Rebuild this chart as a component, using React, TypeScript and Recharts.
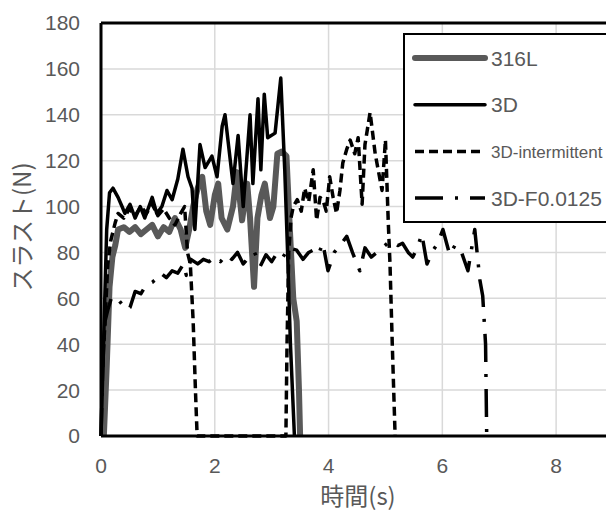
import { LineChart, Line, XAxis, YAxis, CartesianGrid, ReferenceLine } from "recharts";

// [time (s), thrust (N)]
const s316L: [number, number][] = [
  [0.05, 0], [0.1, 30], [0.15, 65], [0.2, 78], [0.25, 83], [0.3, 90], [0.4, 91], [0.5, 89],
  [0.6, 91], [0.7, 88], [0.8, 90], [0.9, 92], [1.0, 87], [1.1, 91], [1.2, 89], [1.3, 95],
  [1.4, 90], [1.48, 82], [1.55, 90], [1.62, 100], [1.7, 108], [1.78, 113], [1.85, 98],
  [1.92, 92], [2.0, 105], [2.06, 110], [2.12, 95], [2.22, 90], [2.32, 100], [2.39, 115],
  [2.48, 94], [2.57, 110], [2.62, 95], [2.69, 65], [2.75, 95], [2.82, 105], [2.88, 110],
  [2.97, 95], [3.03, 100], [3.1, 123], [3.18, 124], [3.26, 122], [3.32, 90], [3.38, 60],
  [3.44, 50], [3.48, 20], [3.5, 0],
];

const s3D: [number, number][] = [
  [0, 0], [0.05, 45], [0.1, 90], [0.15, 106], [0.21, 108], [0.3, 104], [0.37, 100], [0.42, 97],
  [0.51, 101], [0.6, 95], [0.69, 100], [0.77, 95], [0.9, 104], [0.98, 97], [1.07, 100],
  [1.16, 107], [1.25, 103], [1.35, 112], [1.44, 125], [1.53, 113], [1.6, 108], [1.65, 90],
  [1.74, 127], [1.83, 117], [1.95, 122], [2.04, 113], [2.13, 135], [2.18, 140], [2.32, 110],
  [2.41, 131], [2.5, 100], [2.62, 140], [2.67, 110], [2.76, 147], [2.81, 116], [2.87, 149],
  [2.93, 130], [3.06, 132], [3.16, 156], [3.23, 116], [3.28, 80], [3.33, 40], [3.4, 0],
];

const s3DInt: [number, number][] = [
  [0.03, 30], [0.08, 55], [0.12, 75], [0.17, 85], [0.25, 93], [0.3, 97], [0.4, 95], [0.5, 99],
  [0.6, 96], [0.7, 100], [0.8, 97], [0.9, 101], [1.0, 96], [1.1, 99], [1.2, 95], [1.3, 92],
  [1.4, 97], [1.47, 100], [1.52, 80], [1.57, 75], [1.62, 50], [1.66, 20], [1.69, 0], [2.0, 0],
  [2.5, 0], [3.0, 0], [3.25, 0], [3.27, 40], [3.3, 80], [3.34, 95], [3.38, 100], [3.45, 103],
  [3.52, 98], [3.58, 108], [3.65, 102], [3.73, 116], [3.79, 94], [3.85, 104], [3.9, 103],
  [3.96, 98], [4.02, 113], [4.08, 104], [4.14, 97], [4.2, 107], [4.25, 119], [4.32, 125],
  [4.38, 129], [4.46, 123], [4.52, 130], [4.59, 101], [4.64, 127], [4.73, 141], [4.82, 123],
  [4.88, 115], [4.94, 107], [5.0, 129], [5.05, 93], [5.08, 75], [5.12, 40], [5.17, 0],
];

const s3DF: [number, number][] = [
  [0, 0], [0.03, 30], [0.07, 50], [0.12, 55], [0.18, 60], [0.25, 61], [0.35, 58], [0.45, 55],
  [0.51, 56], [0.6, 63], [0.7, 62], [0.8, 66], [0.9, 67], [0.95, 68], [1.05, 71], [1.15, 69],
  [1.25, 72], [1.35, 71], [1.45, 75], [1.5, 70], [1.58, 77], [1.7, 75], [1.8, 77], [1.9, 76],
  [2.0, 78], [2.1, 76], [2.2, 79], [2.3, 77], [2.4, 80], [2.5, 75], [2.6, 78], [2.7, 80],
  [2.8, 74], [2.9, 79], [3.0, 76], [3.1, 80], [3.2, 78], [3.3, 82], [3.44, 81], [3.55, 77],
  [3.65, 80], [3.73, 81], [3.82, 79], [3.9, 84], [3.99, 72], [4.1, 80], [4.2, 83], [4.32, 87],
  [4.42, 80], [4.55, 72], [4.64, 82], [4.75, 78], [4.9, 81], [5.08, 85], [5.22, 83], [5.3, 84],
  [5.4, 80], [5.48, 78], [5.56, 82], [5.64, 88], [5.73, 75], [5.84, 81], [5.92, 84], [6.01, 90],
  [6.13, 79], [6.22, 83], [6.31, 82], [6.45, 72], [6.57, 90], [6.66, 68], [6.71, 61],
  [6.76, 40], [6.78, 0],
];

const xTicks = [0, 2, 4, 6, 8];
const yTicks = [0, 20, 40, 60, 80, 100, 120, 140, 160, 180];

const FONT = "'Liberation Sans', Arial, sans-serif";
const CJK = "'Noto Sans CJK JP', 'Noto Sans CJK SC', sans-serif";
const TEXT = "#595959";

const SERIES = [
  { name: "316L", data: s316L, color: "#595959", width: 6, dash: undefined as string | undefined, size: 21 },
  { name: "3D", data: s3D, color: "#000", width: 3.5, dash: undefined, size: 21 },
  { name: "3D-intermittent", data: s3DInt, color: "#000", width: 3.5, dash: "9 5", size: 17 },
  { name: "3D-F0.0125", data: s3DF, color: "#000", width: 3.5, dash: "28 12 3 12", size: 21 },
];

const toRows = (pts: [number, number][]) => pts.map(([t, v]) => ({ t, v }));

function LegendBox() {
  return (
    <svg width={210} height={190} style={{ display: "block" }}>
      <rect x={1} y={1} width={260} height={188} fill="#fff" stroke="#000" strokeWidth={2} />
      {SERIES.map((s, i) => {
        const y = 25 + i * 46.7;
        return (
          <g key={s.name}>
            <line x1={12} x2={82} y1={y} y2={y} stroke={s.color} strokeWidth={s.width}
              strokeDasharray={s.dash} strokeLinecap={s.dash ? "butt" : "round"} />
            <text x={88} y={y} dy="0.36em" fontSize={s.size} fill={TEXT} fontFamily={FONT}>
              {s.name}
            </text>
          </g>
        );
      })}
    </svg>
  );
}

export default function App() {
  return (
    <div style={{ position: "fixed", left: 0, top: 0, width: 606, height: 511, overflow: "hidden", background: "#fff" }}>
      <LineChart width={620} height={511} margin={{ top: 23, right: 7, bottom: 0, left: 0 }}>
        <CartesianGrid stroke="#d9d9d9" strokeWidth={1.5} />
        <XAxis
          type="number"
          dataKey="t"
          domain={[0, 9]}
          ticks={xTicks}
          interval={0}
          allowDuplicatedCategory={false}
          height={75}
          tickLine={false}
          tickMargin={16}
          axisLine={{ stroke: "#000", strokeWidth: 3 }}
          tick={{ fill: TEXT, fontSize: 21, fontFamily: FONT }}
        />
        <YAxis
          type="number"
          domain={[0, 180]}
          ticks={yTicks}
          interval={0}
          width={101}
          tickLine={false}
          tickMargin={15}
          axisLine={{ stroke: "#000", strokeWidth: 3 }}
          tick={{ fill: TEXT, fontSize: 21, fontFamily: FONT }}
        />
        <ReferenceLine y={180} stroke="#000" strokeWidth={3} />
        {SERIES.map((s) => (
          <Line
            key={s.name}
            data={toRows(s.data)}
            dataKey="v"
            name={s.name}
            type="linear"
            stroke={s.color}
            strokeWidth={s.width}
            strokeDasharray={s.dash}
            strokeLinejoin="round"
            dot={false}
            isAnimationActive={false}
          />
        ))}
        <text x={358} y={505} textAnchor="middle" fontSize={24} fill={TEXT} fontFamily={CJK}>
          時間(s)
        </text>
        <text
          x={0}
          y={0}
          transform="translate(31 227) rotate(-90)"
          textAnchor="middle"
          fontSize={24}
          fill={TEXT}
          fontFamily={CJK}
        >
          スラスト(N)
        </text>
      </LineChart>
      <div style={{ position: "absolute", left: 403, top: 33 }}>
        <LegendBox />
      </div>
    </div>
  );
}
